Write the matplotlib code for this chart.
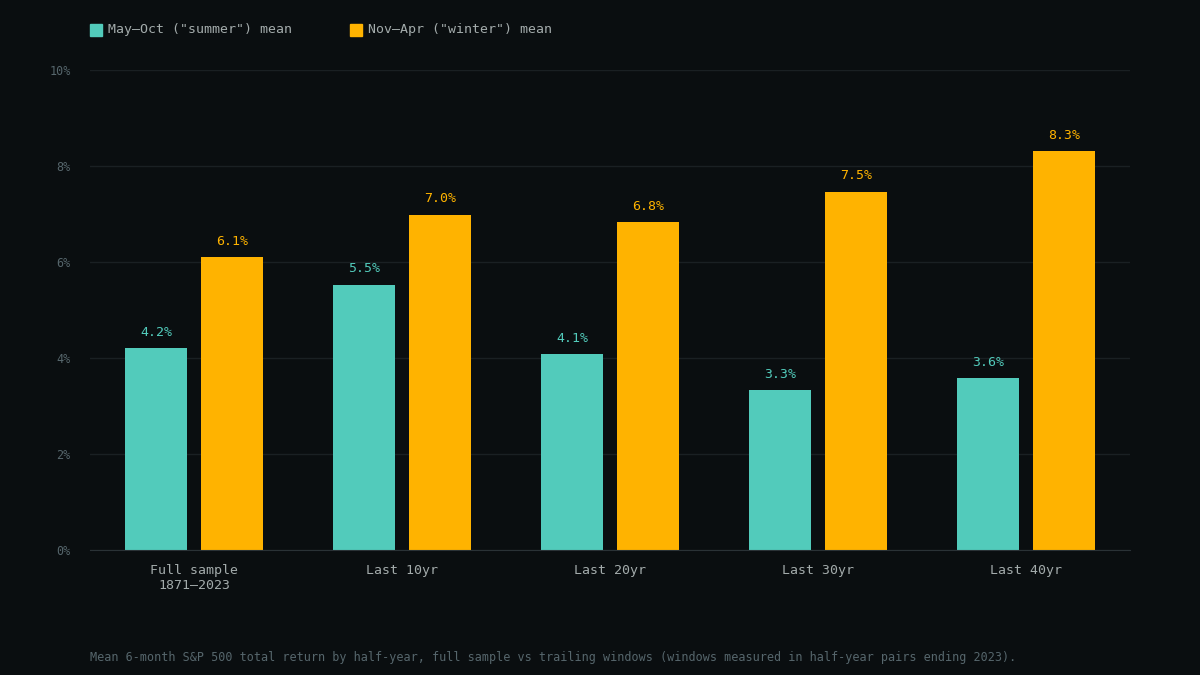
import numpy as np
import matplotlib.pyplot as plt

categories = ["Full sample\n1871\u20132023", "Last 10yr", "Last 20yr", "Last 30yr", "Last 40yr"]
summer = [4.2, 5.52, 4.08, 3.33, 3.58]
winter = [6.1, 6.98, 6.83, 7.46, 8.31]
yticks = [0, 2, 4, 6, 8, 10]

BG = "#0a0e10"
TEAL = "#52cbbb"
ORANGE = "#ffb300"
MUTED = "#56666c"
TEXT = "#a3abab"

plt.rcParams['font.family'] = ['DejaVu Sans Mono']
fig = plt.figure(figsize=(12, 6.75), dpi=100, facecolor=BG)
ax = fig.add_axes([90/1200, 1-550/675, 1040/1200, 480/675], facecolor=BG)

x = np.arange(len(categories))
w = 62/208
off = 38/208
b1 = ax.bar(x - off, summer, w, color=TEAL, zorder=3)
b2 = ax.bar(x + off, winter, w, color=ORANGE, zorder=3)
for bars, vals, c in [(b1, summer, TEAL), (b2, winter, ORANGE)]:
    for b, v in zip(bars, vals):
        ax.text(b.get_x() + b.get_width()/2, v + 0.2, f"{v:.1f}%", ha="center", va="bottom",
                color=c, fontsize=9.5)

ax.set_xlim(-0.5, 4.5)
ax.set_ylim(0, 10)
ax.set_yticks(yticks)
ax.set_yticklabels([f"{t}%" for t in yticks])
ax.set_xticks(x)
ax.set_xticklabels(categories)
ax.tick_params(axis="y", colors=MUTED, labelsize=8.5, length=0, pad=14)
ax.tick_params(axis="x", colors=TEXT, labelsize=9.5, length=0, pad=10)
ax.grid(axis="y", color="#1a2023", lw=1, zorder=0)
for s in ["top", "right", "left"]:
    ax.spines[s].set_visible(False)
ax.spines["bottom"].set_color("#2a3236")
ax.spines["bottom"].set_zorder(4)

# legend
fig.patches.append(plt.Rectangle((90/1200, 1-36/675), 12/1200, 12/675, color=TEAL, transform=fig.transFigure))
fig.text(108/1200, 1-30/675, 'May\u2013Oct ("summer") mean', color=TEXT, fontsize=9.5, va="center")
fig.patches.append(plt.Rectangle((350/1200, 1-36/675), 12/1200, 12/675, color=ORANGE, transform=fig.transFigure))
fig.text(368/1200, 1-30/675, 'Nov\u2013Apr ("winter") mean', color=TEXT, fontsize=9.5, va="center")

fig.text(90/1200, 1-657/675, "Mean 6-month S&P 500 total return by half-year, full sample vs trailing windows "
         "(windows measured in half-year pairs ending 2023).", color=MUTED, fontsize=8.5, va="center")

fig.savefig("out.png", facecolor=BG)
